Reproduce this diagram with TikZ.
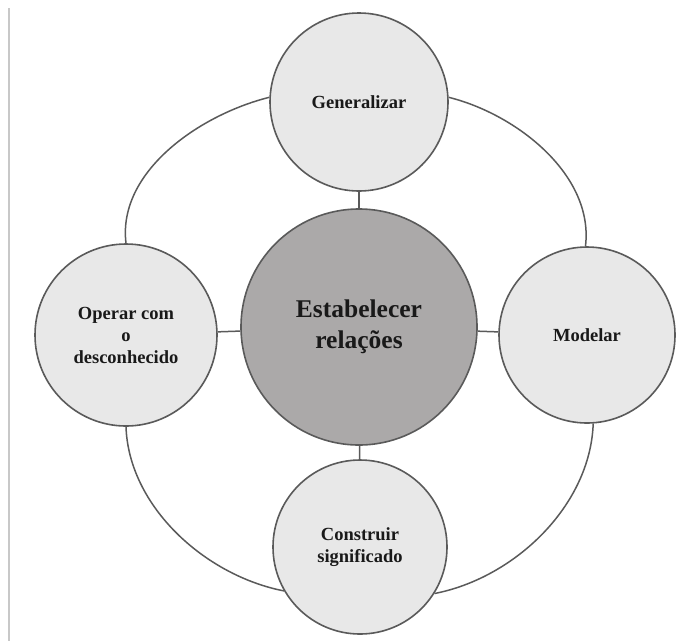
\documentclass[tikz,border=0pt]{standalone}
\usepackage{fontspec}
\setmainfont{Liberation Serif}
\definecolor{borda}{HTML}{C8C8C8}
\definecolor{claro}{HTML}{E8E8E8}
\definecolor{escuro}{HTML}{ABA9A9}
\definecolor{linha}{HTML}{5A5A5A}
\tikzset{
  circ/.style={circle,draw=linha,line width=1.6pt,fill=claro,inner sep=0pt,align=center,
    text=black!90,font=\bfseries\fontsize{18.5}{22}\selectfont},
  lig/.style={draw=linha,line width=1.5pt,looseness=0.9}
}
\begin{document}
\begin{tikzpicture}[x=1pt,y=-1pt]
\useasboundingbox (0,0) rectangle (700,641);
\fill[white] (0,0) rectangle (700,641);
\draw[borda,line width=2.5pt] (9,8) -- (9,641);
\node[circ,minimum size=178pt] (g) at (359,102) {Generalizar};
\node[circ,minimum size=182pt] (o) at (126,335) {Operar com\\o\\desconhecido};
\node[circ,minimum size=176pt] (m) at (587,335) {Modelar};
\node[circ,minimum size=174pt] (c) at (360,547) {Construir\\significado};
\node[circ,minimum size=236pt,fill=escuro,font=\bfseries\fontsize{25.5}{31}\selectfont] (e) at (359,327) {Estabelecer\\relações};
\draw[lig] (g) -- (e);
\draw[lig] (o) -- (e);
\draw[lig] (m) -- (e);
\draw[lig] (e) -- (c);
\draw[lig] (g.177) to[out=194,in=97] (o.90);
\draw[lig] (g.3) to[out=-14,in=83] (m.91);
\draw[lig] (o.270) to[out=-88,in=169] (c.210);
\draw[lig] (m.274) to[out=-92,in=11] (c.328);
\end{tikzpicture}
\end{document}
